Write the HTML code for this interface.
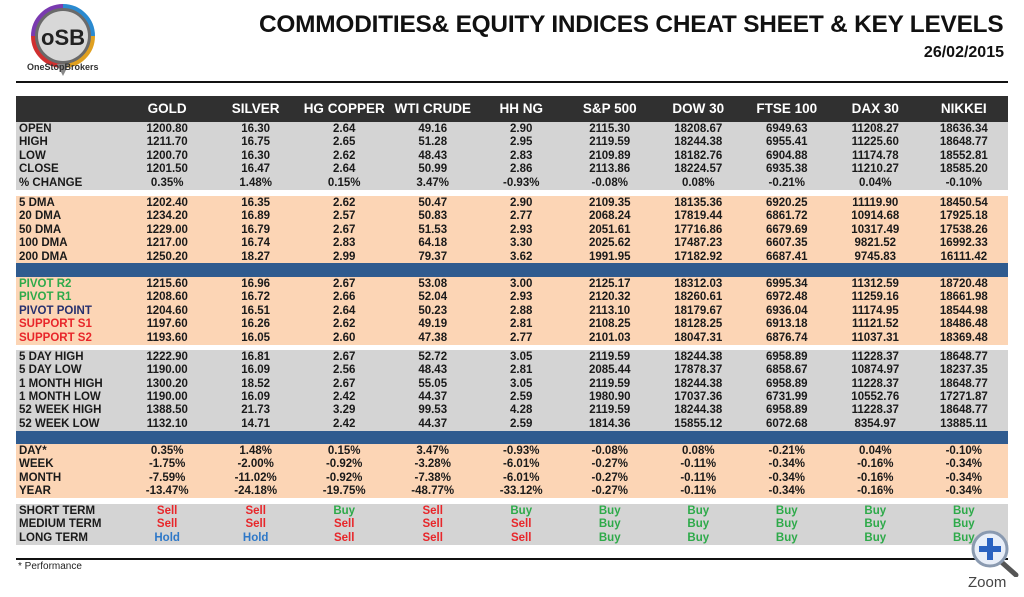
<!DOCTYPE html>
<html><head><meta charset="utf-8"><style>
*{margin:0;padding:0;box-sizing:border-box}
body{width:1024px;height:597px;background:#fff;position:relative;overflow:hidden;font-family:"Liberation Sans",Arial,sans-serif;font-weight:bold;color:#1a1a1a}
.abs{position:absolute}
.band{position:absolute;left:16px;width:992px}
.r{position:absolute;left:16px;width:992px;height:13.4px;line-height:13.4px;font-size:11.5px;display:flex;white-space:nowrap}
.r .l{width:107px;padding-left:3px}
.r span{display:block}
.r .c{width:88.6px;text-align:center}
.h{position:absolute;left:16px;top:96px;width:992px;height:26px;line-height:26px;background:#303030;color:#fff;font-size:13.5px;display:flex}
.h .l{width:107px}
.h .c{width:88.6px;text-align:center}
.g{color:#2eaa4a}.rd{color:#e8262a}.nv{color:#27306e}.bl{color:#2e78c8}
</style></head><body>
<svg class="abs" style="left:30px;top:4px" width="70" height="74" viewBox="0 0 70 74">
<circle cx="33" cy="32" r="30" fill="#6a6a6a"/>
<path d="M33 2 A30 30 0 0 1 63 32" stroke="#2a8ad0" stroke-width="4" fill="none"/>
<path d="M63 32 A30 30 0 0 1 33 62" stroke="#e0a020" stroke-width="4" fill="none"/>
<path d="M33 62 A30 30 0 0 1 3 32" stroke="#d03030" stroke-width="4" fill="none"/>
<path d="M3 32 A30 30 0 0 1 33 2" stroke="#7a3ab0" stroke-width="4" fill="none"/>
<circle cx="33" cy="32" r="25" fill="#d8d8d8"/>
<polygon points="27,60 39,60 33,72" fill="#888"/>
<text x="33" y="41" text-anchor="middle" font-family="Liberation Sans" font-weight="bold" font-size="22" fill="#222">oSB</text>
</svg>
<div class="abs" style="left:27px;top:62px;font-size:9px;color:#333">OneStopBrokers</div>
<div class="abs" style="left:259px;top:11px;font-size:24.4px;color:#111;letter-spacing:-0.2px">COMMODITIES&amp; EQUITY INDICES CHEAT SHEET &amp; KEY LEVELS</div>
<div class="abs" style="right:20px;top:44px;font-size:16px;color:#111">26/02/2015</div>
<div class="abs" style="left:16px;top:81px;width:992px;height:2px;background:#111"></div>

<div class="h"><span class="l"></span><span class="c">GOLD</span><span class="c">SILVER</span><span class="c">HG COPPER</span><span class="c">WTI CRUDE</span><span class="c">HH NG</span><span class="c">S&amp;P 500</span><span class="c">DOW 30</span><span class="c">FTSE 100</span><span class="c">DAX 30</span><span class="c">NIKKEI</span></div>

<div class="band" style="top:122px;height:68px;background:#d4d4d4"></div>
<div class="band" style="top:196px;height:67px;background:#fcd5b5"></div>
<div class="band" style="top:263px;height:14px;background:#2f5b8f"></div>
<div class="band" style="top:277px;height:68px;background:#fcd5b5"></div>
<div class="band" style="top:350px;height:81px;background:#d4d4d4"></div>
<div class="band" style="top:431px;height:13px;background:#2f5b8f"></div>
<div class="band" style="top:444px;height:54px;background:#fcd5b5"></div>
<div class="band" style="top:504px;height:41px;background:#d4d4d4"></div>

<div class="r" style="top:122.5px"><span class="l">OPEN</span><span class="c">1200.80</span><span class="c">16.30</span><span class="c">2.64</span><span class="c">49.16</span><span class="c">2.90</span><span class="c">2115.30</span><span class="c">18208.67</span><span class="c">6949.63</span><span class="c">11208.27</span><span class="c">18636.34</span></div>
<div class="r" style="top:136px"><span class="l">HIGH</span><span class="c">1211.70</span><span class="c">16.75</span><span class="c">2.65</span><span class="c">51.28</span><span class="c">2.95</span><span class="c">2119.59</span><span class="c">18244.38</span><span class="c">6955.41</span><span class="c">11225.60</span><span class="c">18648.77</span></div>
<div class="r" style="top:149.5px"><span class="l">LOW</span><span class="c">1200.70</span><span class="c">16.30</span><span class="c">2.62</span><span class="c">48.43</span><span class="c">2.83</span><span class="c">2109.89</span><span class="c">18182.76</span><span class="c">6904.88</span><span class="c">11174.78</span><span class="c">18552.81</span></div>
<div class="r" style="top:163px"><span class="l">CLOSE</span><span class="c">1201.50</span><span class="c">16.47</span><span class="c">2.64</span><span class="c">50.99</span><span class="c">2.86</span><span class="c">2113.86</span><span class="c">18224.57</span><span class="c">6935.38</span><span class="c">11210.27</span><span class="c">18585.20</span></div>
<div class="r" style="top:176.5px"><span class="l">% CHANGE</span><span class="c">0.35%</span><span class="c">1.48%</span><span class="c">0.15%</span><span class="c">3.47%</span><span class="c">-0.93%</span><span class="c">-0.08%</span><span class="c">0.08%</span><span class="c">-0.21%</span><span class="c">0.04%</span><span class="c">-0.10%</span></div>

<div class="r" style="top:197px"><span class="l">5 DMA</span><span class="c">1202.40</span><span class="c">16.35</span><span class="c">2.62</span><span class="c">50.47</span><span class="c">2.90</span><span class="c">2109.35</span><span class="c">18135.36</span><span class="c">6920.25</span><span class="c">11119.90</span><span class="c">18450.54</span></div>
<div class="r" style="top:210.4px"><span class="l">20 DMA</span><span class="c">1234.20</span><span class="c">16.89</span><span class="c">2.57</span><span class="c">50.83</span><span class="c">2.77</span><span class="c">2068.24</span><span class="c">17819.44</span><span class="c">6861.72</span><span class="c">10914.68</span><span class="c">17925.18</span></div>
<div class="r" style="top:223.8px"><span class="l">50 DMA</span><span class="c">1229.00</span><span class="c">16.79</span><span class="c">2.67</span><span class="c">51.53</span><span class="c">2.93</span><span class="c">2051.61</span><span class="c">17716.86</span><span class="c">6679.69</span><span class="c">10317.49</span><span class="c">17538.26</span></div>
<div class="r" style="top:237.2px"><span class="l">100 DMA</span><span class="c">1217.00</span><span class="c">16.74</span><span class="c">2.83</span><span class="c">64.18</span><span class="c">3.30</span><span class="c">2025.62</span><span class="c">17487.23</span><span class="c">6607.35</span><span class="c">9821.52</span><span class="c">16992.33</span></div>
<div class="r" style="top:250.6px"><span class="l">200 DMA</span><span class="c">1250.20</span><span class="c">18.27</span><span class="c">2.99</span><span class="c">79.37</span><span class="c">3.62</span><span class="c">1991.95</span><span class="c">17182.92</span><span class="c">6687.41</span><span class="c">9745.83</span><span class="c">16111.42</span></div>

<div class="r" style="top:277.5px"><span class="l g">PIVOT R2</span><span class="c">1215.60</span><span class="c">16.96</span><span class="c">2.67</span><span class="c">53.08</span><span class="c">3.00</span><span class="c">2125.17</span><span class="c">18312.03</span><span class="c">6995.34</span><span class="c">11312.59</span><span class="c">18720.48</span></div>
<div class="r" style="top:291px"><span class="l g">PIVOT R1</span><span class="c">1208.60</span><span class="c">16.72</span><span class="c">2.66</span><span class="c">52.04</span><span class="c">2.93</span><span class="c">2120.32</span><span class="c">18260.61</span><span class="c">6972.48</span><span class="c">11259.16</span><span class="c">18661.98</span></div>
<div class="r" style="top:304.5px"><span class="l nv">PIVOT POINT</span><span class="c">1204.60</span><span class="c">16.51</span><span class="c">2.64</span><span class="c">50.23</span><span class="c">2.88</span><span class="c">2113.10</span><span class="c">18179.67</span><span class="c">6936.04</span><span class="c">11174.95</span><span class="c">18544.98</span></div>
<div class="r" style="top:318px"><span class="l rd">SUPPORT S1</span><span class="c">1197.60</span><span class="c">16.26</span><span class="c">2.62</span><span class="c">49.19</span><span class="c">2.81</span><span class="c">2108.25</span><span class="c">18128.25</span><span class="c">6913.18</span><span class="c">11121.52</span><span class="c">18486.48</span></div>
<div class="r" style="top:331.5px"><span class="l rd">SUPPORT S2</span><span class="c">1193.60</span><span class="c">16.05</span><span class="c">2.60</span><span class="c">47.38</span><span class="c">2.77</span><span class="c">2101.03</span><span class="c">18047.31</span><span class="c">6876.74</span><span class="c">11037.31</span><span class="c">18369.48</span></div>

<div class="r" style="top:350.8px"><span class="l">5 DAY HIGH</span><span class="c">1222.90</span><span class="c">16.81</span><span class="c">2.67</span><span class="c">52.72</span><span class="c">3.05</span><span class="c">2119.59</span><span class="c">18244.38</span><span class="c">6958.89</span><span class="c">11228.37</span><span class="c">18648.77</span></div>
<div class="r" style="top:364.2px"><span class="l">5 DAY LOW</span><span class="c">1190.00</span><span class="c">16.09</span><span class="c">2.56</span><span class="c">48.43</span><span class="c">2.81</span><span class="c">2085.44</span><span class="c">17878.37</span><span class="c">6858.67</span><span class="c">10874.97</span><span class="c">18237.35</span></div>
<div class="r" style="top:377.6px"><span class="l">1 MONTH HIGH</span><span class="c">1300.20</span><span class="c">18.52</span><span class="c">2.67</span><span class="c">55.05</span><span class="c">3.05</span><span class="c">2119.59</span><span class="c">18244.38</span><span class="c">6958.89</span><span class="c">11228.37</span><span class="c">18648.77</span></div>
<div class="r" style="top:391px"><span class="l">1 MONTH LOW</span><span class="c">1190.00</span><span class="c">16.09</span><span class="c">2.42</span><span class="c">44.37</span><span class="c">2.59</span><span class="c">1980.90</span><span class="c">17037.36</span><span class="c">6731.99</span><span class="c">10552.76</span><span class="c">17271.87</span></div>
<div class="r" style="top:404.4px"><span class="l">52 WEEK HIGH</span><span class="c">1388.50</span><span class="c">21.73</span><span class="c">3.29</span><span class="c">99.53</span><span class="c">4.28</span><span class="c">2119.59</span><span class="c">18244.38</span><span class="c">6958.89</span><span class="c">11228.37</span><span class="c">18648.77</span></div>
<div class="r" style="top:417.8px"><span class="l">52 WEEK LOW</span><span class="c">1132.10</span><span class="c">14.71</span><span class="c">2.42</span><span class="c">44.37</span><span class="c">2.59</span><span class="c">1814.36</span><span class="c">15855.12</span><span class="c">6072.68</span><span class="c">8354.97</span><span class="c">13885.11</span></div>

<div class="r" style="top:444.5px"><span class="l">DAY*</span><span class="c">0.35%</span><span class="c">1.48%</span><span class="c">0.15%</span><span class="c">3.47%</span><span class="c">-0.93%</span><span class="c">-0.08%</span><span class="c">0.08%</span><span class="c">-0.21%</span><span class="c">0.04%</span><span class="c">-0.10%</span></div>
<div class="r" style="top:458px"><span class="l">WEEK</span><span class="c">-1.75%</span><span class="c">-2.00%</span><span class="c">-0.92%</span><span class="c">-3.28%</span><span class="c">-6.01%</span><span class="c">-0.27%</span><span class="c">-0.11%</span><span class="c">-0.34%</span><span class="c">-0.16%</span><span class="c">-0.34%</span></div>
<div class="r" style="top:471.5px"><span class="l">MONTH</span><span class="c">-7.59%</span><span class="c">-11.02%</span><span class="c">-0.92%</span><span class="c">-7.38%</span><span class="c">-6.01%</span><span class="c">-0.27%</span><span class="c">-0.11%</span><span class="c">-0.34%</span><span class="c">-0.16%</span><span class="c">-0.34%</span></div>
<div class="r" style="top:485px"><span class="l">YEAR</span><span class="c">-13.47%</span><span class="c">-24.18%</span><span class="c">-19.75%</span><span class="c">-48.77%</span><span class="c">-33.12%</span><span class="c">-0.27%</span><span class="c">-0.11%</span><span class="c">-0.34%</span><span class="c">-0.16%</span><span class="c">-0.34%</span></div>

<div class="r" style="top:505px"><span class="l">SHORT TERM</span><span class="c rd">Sell</span><span class="c rd">Sell</span><span class="c g">Buy</span><span class="c rd">Sell</span><span class="c g">Buy</span><span class="c g">Buy</span><span class="c g">Buy</span><span class="c g">Buy</span><span class="c g">Buy</span><span class="c g">Buy</span></div>
<div class="r" style="top:518.4px"><span class="l">MEDIUM TERM</span><span class="c rd">Sell</span><span class="c rd">Sell</span><span class="c rd">Sell</span><span class="c rd">Sell</span><span class="c rd">Sell</span><span class="c g">Buy</span><span class="c g">Buy</span><span class="c g">Buy</span><span class="c g">Buy</span><span class="c g">Buy</span></div>
<div class="r" style="top:531.8px"><span class="l">LONG TERM</span><span class="c bl">Hold</span><span class="c bl">Hold</span><span class="c rd">Sell</span><span class="c rd">Sell</span><span class="c rd">Sell</span><span class="c g">Buy</span><span class="c g">Buy</span><span class="c g">Buy</span><span class="c g">Buy</span><span class="c g">Buy</span></div>

<div class="abs" style="left:16px;top:558px;width:992px;height:2px;background:#111"></div>
<div class="abs" style="left:18px;top:561px;font-size:10px;font-weight:normal;color:#222">* Performance</div>

<svg class="abs" style="left:966px;top:527px" width="56" height="50" viewBox="0 0 56 50">
<line x1="32" y1="32" x2="50" y2="48" stroke="#555" stroke-width="5" stroke-linecap="round"/>
<circle cx="24" cy="22" r="17" fill="#e8eef8" stroke="#8a9ab0" stroke-width="3"/>
<rect x="21" y="11" width="6" height="22" fill="#2a62c0"/>
<rect x="13" y="19" width="22" height="6" fill="#2a62c0"/>
</svg>
<div class="abs" style="left:968px;top:574px;font-size:15px;font-weight:normal;color:#444">Zoom</div>
</body></html>
